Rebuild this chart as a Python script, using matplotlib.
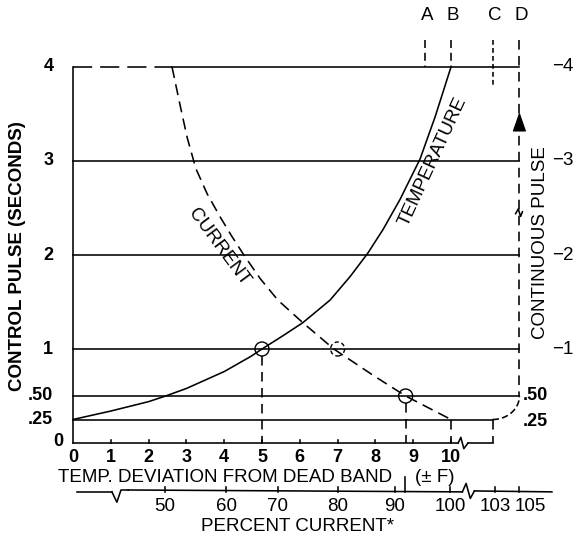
import numpy as np
import matplotlib
matplotlib.use("Agg")
import matplotlib.pyplot as plt
from matplotlib.patches import Ellipse

plt.rcParams["font.family"] = ["Liberation Sans", "DejaVu Sans"]

# temperature curve: deviation from dead band (F) -> control pulse (s)
temp_x = [0.0, 1.0, 2.0, 2.45, 3.0, 4.0, 4.7, 5.0, 5.55, 6.08, 6.8, 7.33, 7.8, 8.2, 8.65, 9.18, 9.58, 10.0]
temp_y = [0.25, 0.34, 0.44, 0.5, 0.58, 0.76, 0.92, 1.0, 1.14, 1.28, 1.52, 1.77, 2.02, 2.27, 2.59, 3.02, 3.47, 4.0]

# current curve (dashed)
current_x = [2.62, 2.83, 3.02, 3.25, 3.55, 3.9, 4.2, 4.52, 4.95, 5.42, 6.08, 6.9, 7.94, 8.8, 10.0]
current_y = [4.0, 3.6, 3.25, 2.92, 2.65, 2.4, 2.2, 2.0, 1.75, 1.52, 1.28, 1.0, 0.72, 0.5, 0.25]

# circled points and their drop lines
circle_x = [5.0, 7.0, 8.8]
circle_y = [1.0, 1.0, 0.5]
circle_dashed = [False, True, False]

# axes
y_levels = [0.25, 0.5, 1, 2, 3, 4]
y_labels = [".25", ".50", "1", "2", "3", "4"]
x_ticks = list(range(0, 11))
right_levels = [1, 2, 3, 4]

# percent current scale, positions in temperature units
pct_labels = ["50", "60", "70", "80", "90", "100", "103", "105"]
pct_pos = [2.43, 4.05, 5.42, 7.01, 8.52, 9.97, 11.16, 11.81]
pct_mark = 8.78

marker_names = ["A", "B", "C", "D"]
marker_x = [9.31, 10.0, 11.1, 11.81]

A, B, C, D = marker_x

fig = plt.figure(figsize=(5.8, 5.37), dpi=100)
ax = fig.add_axes([73 / 580, 94 / 537, 472.5 / 580, 376 / 537])
ax.set_xlim(0, 12.5)
ax.set_ylim(0, 4)
ax.axis("off")

lw = 1.15
kw = dict(color="black", lw=lw, clip_on=False)
dash = (7, 4)

# frame lines
ax.plot([0, 0], [0, 4], **kw)
for lv in y_levels:
    if lv == 0.25:
        ax.plot([0, C], [lv, lv], **kw)
    elif lv == 4:
        ax.plot([0, current_x[0]], [lv, lv], dashes=(12, 5), **kw)
        ax.plot([current_x[0], D], [lv, lv], **kw)
    else:
        ax.plot([0, D], [lv, lv], **kw)

# rounded corner from .25 up to the continuous pulse line
t = np.linspace(-np.pi / 2, 0, 20)
ax.plot(C + (D - C) * np.cos(t), 0.5 + 0.25 * np.sin(t), dashes=(4, 2), **kw)

# bottom temperature axis with break
ax.plot([0, 10.19], [0, 0], **kw)
ax.plot([10.19, 10.26, 10.34, 10.45], [0, 0.06, -0.06, 0], **kw)
ax.plot([10.45, C], [0, 0], **kw)
for xt in x_ticks[1:]:
    ax.plot([xt, xt], [0, 0.035], **kw)
    ax.text(xt, -0.15, str(xt), ha="center", va="center", fontsize=13, fontweight="bold")
ax.text(0, -0.15, "0", ha="center", va="center", fontsize=13, fontweight="bold")

# left labels
for lv, lab in zip(y_levels, y_labels):
    ax.text(-0.52, lv, lab, ha="right", va="center", fontsize=13, fontweight="bold")
ax.text(-0.38, 0.02, "0", ha="center", va="center", fontsize=13, fontweight="bold")
ax.text(-1.48, 1.99, "CONTROL PULSE (SECONDS)", rotation=90, ha="center", va="center",
        fontsize=13.5, fontweight="bold")

# right labels
for lv in right_levels:
    ax.text(12.68, lv, "\u2212" + str(lv), ha="left", va="center", fontsize=13.5)
ax.text(11.9, 0.5, ".50", ha="left", va="center", fontsize=13, fontweight="bold")
ax.text(11.9, 0.23, ".25", ha="left", va="center", fontsize=13, fontweight="bold")
ax.text(12.37, 2.13, "CONTINUOUS PULSE", rotation=90, ha="center", va="center", fontsize=13.5)

# curves
ax.plot(temp_x, temp_y, **kw)
ax.plot(current_x, current_y, dashes=dash, **kw)
ax.text(3.86, 2.08, "CURRENT", rotation=-53.5, rotation_mode="anchor",
        ha="center", va="center", fontsize=13.5)
ax.text(9.52, 2.99, "TEMPERATURE", rotation=65.2, rotation_mode="anchor",
        ha="center", va="center", fontsize=13.5)

# circles and drop lines
for cx, cy, dd in zip(circle_x, circle_y, circle_dashed):
    e = Ellipse((cx, cy), 14 / 37.8, 14 / 94, fill=False, lw=1.0, ec="black",
                ls=(0, (3, 2)) if dd else "-", clip_on=False)
    ax.add_patch(e)
ax.plot([circle_x[0]] * 2, [circle_y[0] - 0.07, 0], dashes=(6, 4), **kw)
ax.plot([circle_x[2]] * 2, [circle_y[2] - 0.07, 0], dashes=(6, 4), **kw)
ax.plot([10.0, 10.0], [0.25, 0], dashes=(6, 4), **kw)
ax.plot([C, C], [0.25, 0], dashes=(6, 4), **kw)

# A B C D markers
for name, mx in zip(marker_names, marker_x):
    ax.text(mx + 0.05, 4.55, name, ha="center", va="center", fontsize=13.5)
ax.plot([A, A], [4.29, 4.0], dashes=(5, 3), **kw)
ax.plot([B, B], [4.29, 4.0], dashes=(5, 3), **kw)
ax.plot([C, C], [4.29, 3.81], dashes=(3, 2), **kw)
ax.plot([D, D], [4.29, 0.5], dashes=(6, 4), **kw)
ax.annotate("", xy=(D, 3.55), xytext=(D, 3.3),
            arrowprops=dict(arrowstyle="-|>,head_length=1.2,head_width=0.42",
                            color="black", lw=1.0))
ax.plot([D - 0.1, D - 0.03, D + 0.03, D + 0.08], [2.44, 2.49, 2.41, 2.46], **kw)

# axis titles
ax.text(-0.40, -0.37, "TEMP. DEVIATION FROM DEAD BAND", ha="left", va="center", fontsize=13.5)
ax.text(9.58, -0.37, "(\u00b1 F)", ha="center", va="center", fontsize=13.5)

# percent current scale
py = -0.52
ax.plot([0.1, 1.03], [py, py], **kw)
ax.plot([1.03, 1.16, 1.27, 1.46], [py, py - 0.11, py + 0.02, py + 0.02], **kw)
ax.plot([1.46, 10.3], [py + 0.02, py], **kw)
ax.plot([10.3, 10.4, 10.51, 10.62], [py, py + 0.09, py - 0.07, py + 0.01], **kw)
ax.plot([10.62, 12.67], [py + 0.01, py], **kw)
for lab, px in zip(pct_labels, pct_pos):
    ax.plot([px, px], [py, py + 0.05], **kw)
    ax.text(px + (0.3 if lab == "105" else 0), -0.68, lab, ha="center", va="center", fontsize=13.5)
ax.plot([pct_mark, pct_mark], [py, -0.36], **kw)
ax.text(5.93, -0.89, "PERCENT CURRENT*", ha="center", va="center", fontsize=13.5)

fig.savefig("out.png", dpi=100)
